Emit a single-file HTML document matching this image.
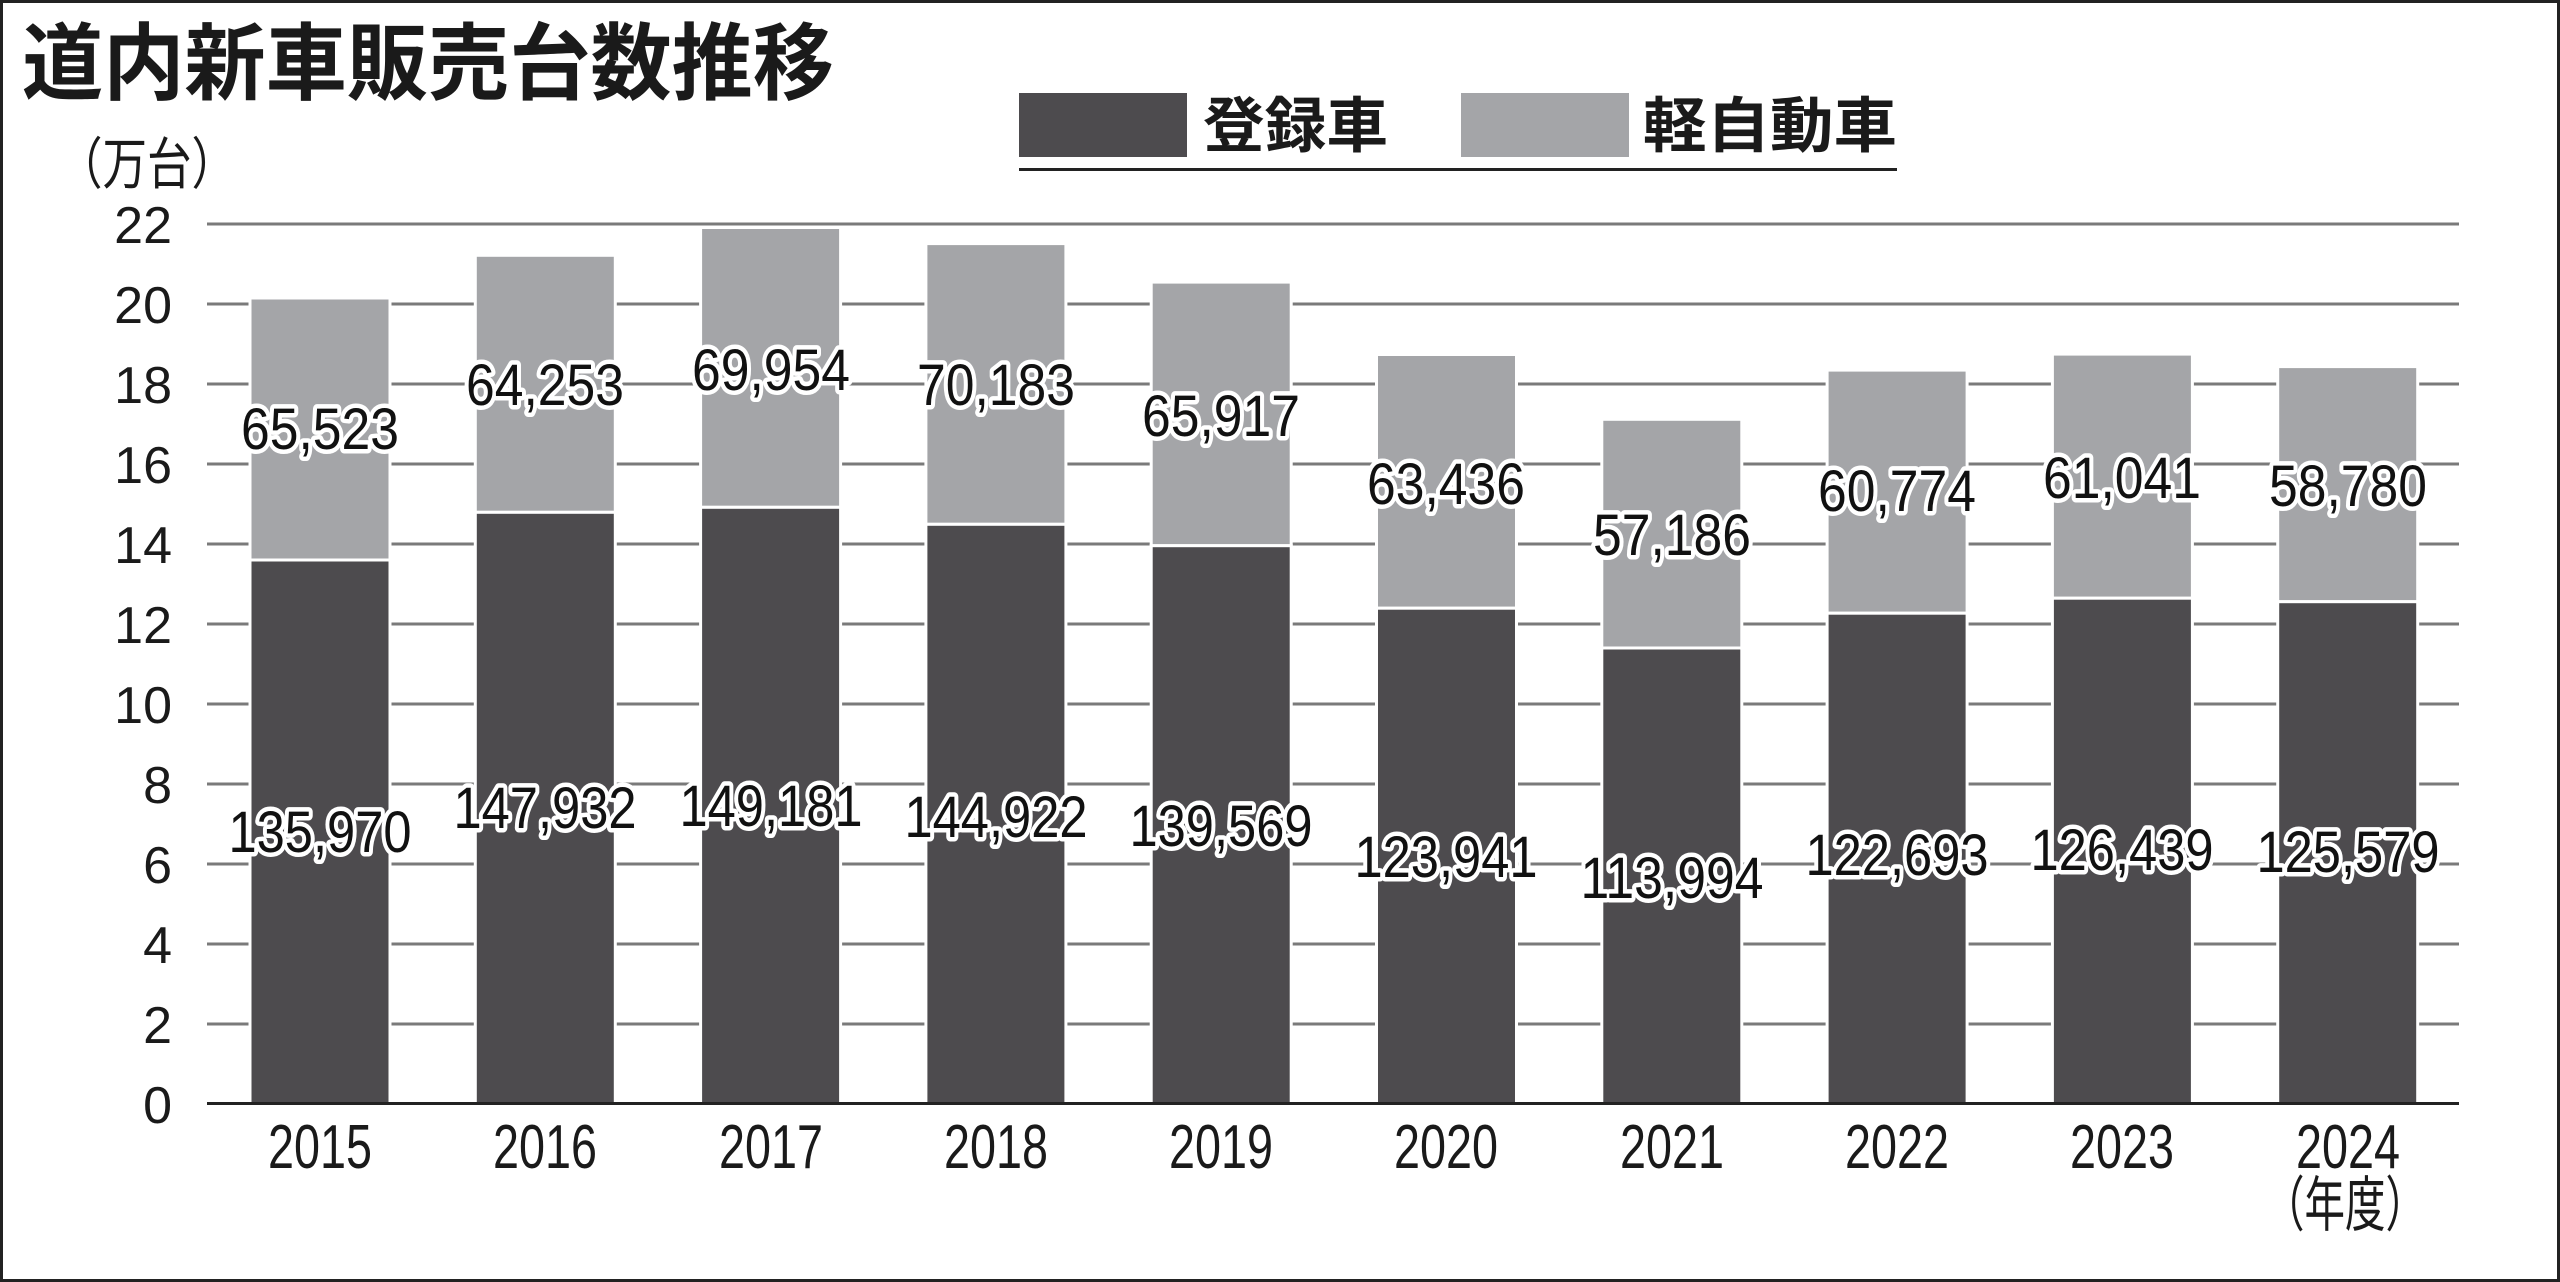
<!DOCTYPE html>
<html><head><meta charset="utf-8"><style>
html,body{margin:0;padding:0;background:#fff}
svg{display:block}
text{font-family:"Liberation Sans","Noto Sans CJK JP",sans-serif}
.lbl{font-size:58px;fill:#111;stroke:#fff;stroke-width:9px;paint-order:stroke;stroke-linejoin:round;text-anchor:middle}
.tk{font-size:52px;fill:#1a1a1a;text-anchor:end}
.yr{font-size:62px;fill:#1a1a1a;text-anchor:middle}
</style></head><body>
<svg width="2560" height="1282" viewBox="0 0 2560 1282" xmlns="http://www.w3.org/2000/svg">
<rect x="1.5" y="1.5" width="2557" height="1279" fill="#fff" stroke="#222" stroke-width="3"/>
<text x="22" y="93" font-size="84" font-weight="bold" fill="#1a1a1a" font-family="'Noto Sans CJK JP',sans-serif" textLength="812" lengthAdjust="spacingAndGlyphs">道内新車販売台数推移</text>
<text x="58" y="184" font-size="56" fill="#1a1a1a" font-family="'Noto Sans CJK JP',sans-serif" textLength="178" lengthAdjust="spacingAndGlyphs">（万台）</text>
<rect x="1019" y="93" width="168" height="64" fill="#4d4b4e"/>
<text x="1203" y="147" font-size="60" fill="#1a1a1a" font-family="'Noto Sans CJK JP',sans-serif" font-weight="bold" textLength="185" lengthAdjust="spacingAndGlyphs">登録車</text>
<rect x="1461" y="93" width="168" height="64" fill="#a4a5a8"/>
<text x="1643" y="147" font-size="60" fill="#1a1a1a" font-family="'Noto Sans CJK JP',sans-serif" font-weight="bold" textLength="254" lengthAdjust="spacingAndGlyphs">軽自動車</text>
<rect x="1019" y="168" width="878" height="3" fill="#222"/>
<g stroke="#7a7a7a" stroke-width="3">
<line x1="207" x2="2459" y1="224" y2="224"/><line x1="207" x2="2459" y1="304" y2="304"/>
<line x1="207" x2="2459" y1="384" y2="384"/><line x1="207" x2="2459" y1="464" y2="464"/>
<line x1="207" x2="2459" y1="544" y2="544"/><line x1="207" x2="2459" y1="624" y2="624"/>
<line x1="207" x2="2459" y1="704" y2="704"/><line x1="207" x2="2459" y1="784" y2="784"/>
<line x1="207" x2="2459" y1="864" y2="864"/><line x1="207" x2="2459" y1="944" y2="944"/>
<line x1="207" x2="2459" y1="1024" y2="1024"/>
</g>
<g class="tk">
<text x="172" y="243">22</text><text x="172" y="323">20</text><text x="172" y="403">18</text>
<text x="172" y="483">16</text><text x="172" y="563">14</text><text x="172" y="643">12</text>
<text x="172" y="723">10</text><text x="172" y="803">8</text><text x="172" y="883">6</text>
<text x="172" y="963">4</text><text x="172" y="1043">2</text><text x="172" y="1123">0</text>
</g>
<g stroke="#fff" stroke-width="3">
<rect x="250" y="298" width="140" height="262" fill="#a4a5a8"/><rect x="250" y="560" width="140" height="544" fill="#4d4b4e"/>
<rect x="475.3" y="255.3" width="140" height="257" fill="#a4a5a8"/><rect x="475.3" y="512.3" width="140" height="591.7" fill="#4d4b4e"/>
<rect x="700.6" y="227.5" width="140" height="279.8" fill="#a4a5a8"/><rect x="700.6" y="507.3" width="140" height="596.7" fill="#4d4b4e"/>
<rect x="925.9" y="243.6" width="140" height="280.7" fill="#a4a5a8"/><rect x="925.9" y="524.3" width="140" height="579.7" fill="#4d4b4e"/>
<rect x="1151.2" y="282.1" width="140" height="263.6" fill="#a4a5a8"/><rect x="1151.2" y="545.7" width="140" height="558.3" fill="#4d4b4e"/>
<rect x="1376.5" y="354.5" width="140" height="253.7" fill="#a4a5a8"/><rect x="1376.5" y="608.2" width="140" height="495.8" fill="#4d4b4e"/>
<rect x="1601.8" y="419.3" width="140" height="228.7" fill="#a4a5a8"/><rect x="1601.8" y="648" width="140" height="456" fill="#4d4b4e"/>
<rect x="1827.1" y="370.1" width="140" height="243.1" fill="#a4a5a8"/><rect x="1827.1" y="613.2" width="140" height="490.8" fill="#4d4b4e"/>
<rect x="2052.4" y="354.1" width="140" height="244.1" fill="#a4a5a8"/><rect x="2052.4" y="598.2" width="140" height="505.8" fill="#4d4b4e"/>
<rect x="2277.7" y="366.6" width="140" height="235.1" fill="#a4a5a8"/><rect x="2277.7" y="601.7" width="140" height="502.3" fill="#4d4b4e"/>
</g>
<rect x="207" y="1102" width="2252" height="3" fill="#222"/>
<g class="lbl">
<text x="320" y="449" textLength="158" lengthAdjust="spacingAndGlyphs">65,523</text>
<text x="545" y="405" textLength="158" lengthAdjust="spacingAndGlyphs">64,253</text>
<text x="771" y="390" textLength="158" lengthAdjust="spacingAndGlyphs">69,954</text>
<text x="996" y="405" textLength="158" lengthAdjust="spacingAndGlyphs">70,183</text>
<text x="1221" y="436" textLength="158" lengthAdjust="spacingAndGlyphs">65,917</text>
<text x="1446" y="504" textLength="158" lengthAdjust="spacingAndGlyphs">63,436</text>
<text x="1672" y="555" textLength="158" lengthAdjust="spacingAndGlyphs">57,186</text>
<text x="1897" y="511" textLength="158" lengthAdjust="spacingAndGlyphs">60,774</text>
<text x="2122" y="498" textLength="158" lengthAdjust="spacingAndGlyphs">61,041</text>
<text x="2348" y="506" textLength="158" lengthAdjust="spacingAndGlyphs">58,780</text>
<text x="320" y="852" textLength="183" lengthAdjust="spacingAndGlyphs">135,970</text>
<text x="545" y="828" textLength="183" lengthAdjust="spacingAndGlyphs">147,932</text>
<text x="771" y="826" textLength="183" lengthAdjust="spacingAndGlyphs">149,181</text>
<text x="996" y="837" textLength="183" lengthAdjust="spacingAndGlyphs">144,922</text>
<text x="1221" y="846" textLength="183" lengthAdjust="spacingAndGlyphs">139,569</text>
<text x="1446" y="877" textLength="183" lengthAdjust="spacingAndGlyphs">123,941</text>
<text x="1672" y="898" textLength="183" lengthAdjust="spacingAndGlyphs">113,994</text>
<text x="1897" y="875" textLength="183" lengthAdjust="spacingAndGlyphs">122,693</text>
<text x="2122" y="870" textLength="183" lengthAdjust="spacingAndGlyphs">126,439</text>
<text x="2348" y="872" textLength="183" lengthAdjust="spacingAndGlyphs">125,579</text>
</g>
<g class="yr">
<text x="320" y="1168" textLength="104" lengthAdjust="spacingAndGlyphs">2015</text>
<text x="545" y="1168" textLength="104" lengthAdjust="spacingAndGlyphs">2016</text>
<text x="771" y="1168" textLength="104" lengthAdjust="spacingAndGlyphs">2017</text>
<text x="996" y="1168" textLength="104" lengthAdjust="spacingAndGlyphs">2018</text>
<text x="1221" y="1168" textLength="104" lengthAdjust="spacingAndGlyphs">2019</text>
<text x="1446" y="1168" textLength="104" lengthAdjust="spacingAndGlyphs">2020</text>
<text x="1672" y="1168" textLength="104" lengthAdjust="spacingAndGlyphs">2021</text>
<text x="1897" y="1168" textLength="104" lengthAdjust="spacingAndGlyphs">2022</text>
<text x="2122" y="1168" textLength="104" lengthAdjust="spacingAndGlyphs">2023</text>
<text x="2348" y="1168" textLength="104" lengthAdjust="spacingAndGlyphs">2024</text>
<text x="2345" y="1226" font-size="60" font-family="'Noto Sans CJK JP',sans-serif" textLength="162" lengthAdjust="spacingAndGlyphs">（年度）</text>
</g>
</svg>
</body></html>
